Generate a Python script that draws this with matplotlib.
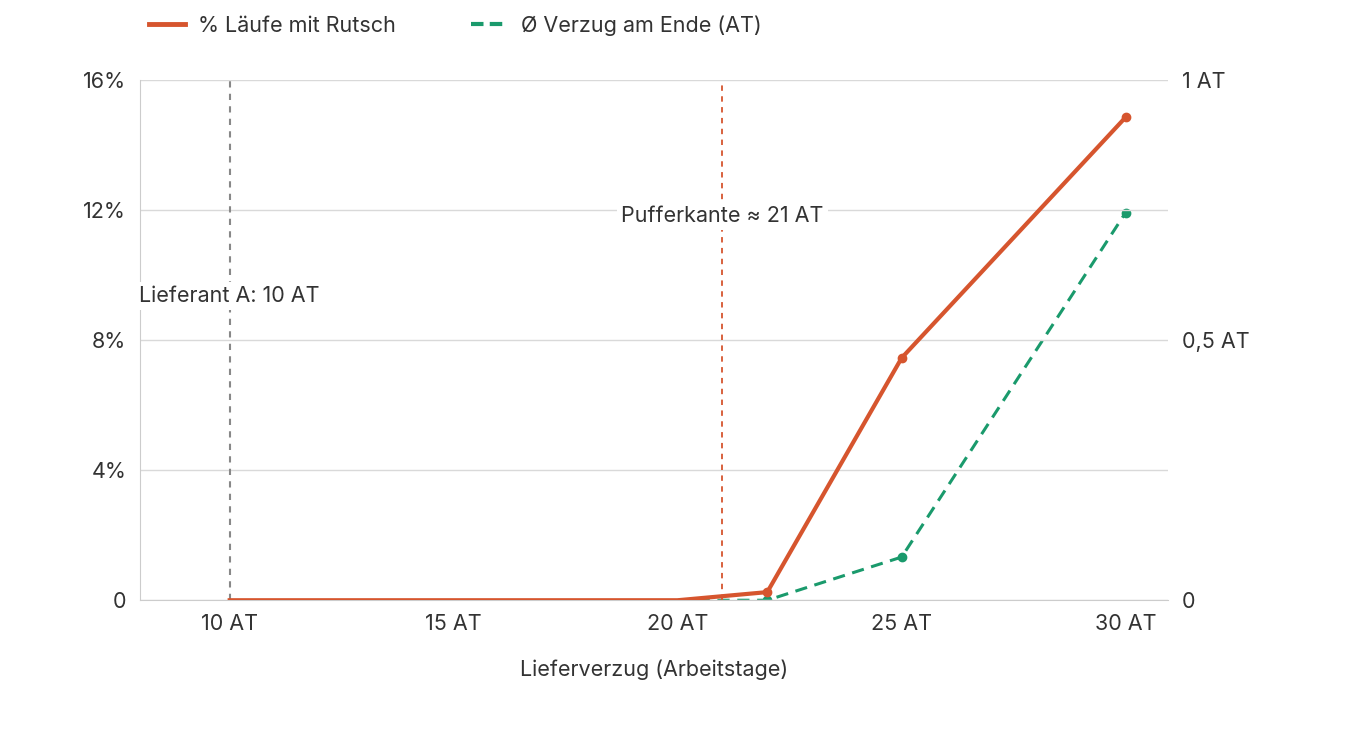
import matplotlib
matplotlib.use("Agg")
import matplotlib.pyplot as plt
from matplotlib.lines import Line2D

plt.rcParams['font.family'] = ['Inter', 'DejaVu Sans']

x_rutsch = [10, 15, 20, 22, 25, 30]
pct_rutsch = [0, 0, 0, 0.25, 7.45, 14.85]
x_verzug = [20, 22, 25, 30]
verzug_at = [0, 0, 0.083, 0.745]
left_ticks = [0, 4, 8, 12, 16]
left_labels = ["0", "4%", "8%", "12%", "16%"]
right_ticks = [0, 0.5, 1]
right_labels = ["0", "0,5 AT", "1 AT"]
x_ticks = [10, 15, 20, 25, 30]
x_labels = ["10 AT", "15 AT", "20 AT", "25 AT", "30 AT"]

orange = "#d6552e"
green = "#1a9a6c"
txt = "#333333"

fig = plt.figure(figsize=(13.6, 7.32), dpi=100)
ax = fig.add_axes([0.103, 0.180, 0.756, 0.711])
ax.set_xlim(8, 30.95)
ax.set_ylim(0, 16)
ax.set_yticks(left_ticks)
ax.set_yticklabels(left_labels)
ax.set_xticks(x_ticks)
ax.set_xticklabels(x_labels)
for s in ["top", "right"]:
    ax.spines[s].set_visible(False)
ax.spines["left"].set_color("#cccccc")
ax.spines["bottom"].set_color("#cccccc")
ax.grid(axis="y", color="#d9d9d9", lw=1)
ax.set_axisbelow(True)
ax.tick_params(length=0, labelsize=15.5, colors=txt, pad=10)
ax.set_xlabel("Lieferverzug (Arbeitstage)", fontsize=15.5, color=txt, labelpad=18)

ax.axvline(10, color="#888888", ls=(0, (3, 3)), lw=1.5, zorder=2)
ax.axvline(21, color=orange, ls=(0, (3, 3)), lw=1.3, zorder=2)
ax.text(10, 9.35, "Lieferant A: 10 AT", ha="center", va="center", fontsize=15.5, color=txt,
        bbox=dict(fc="white", ec="none", pad=3), zorder=3)
ax.text(21, 11.8, "Pufferkante ≈ 21 AT", ha="center", va="center", fontsize=15.5, color=txt,
        bbox=dict(fc="white", ec="none", pad=3), zorder=3)

ax2 = ax.twinx()
ax2.set_ylim(0, 1)
ax2.set_yticks(right_ticks)
ax2.set_yticklabels(right_labels)
for s in ax2.spines.values():
    s.set_visible(False)
ax2.tick_params(length=0, labelsize=15.5, colors=txt, pad=10)
ax2.plot(x_verzug, verzug_at, color=green, lw=2.2, ls=(0, (4, 2.5)), zorder=4)
ax2.plot(x_verzug[1:], verzug_at[1:], "o", color=green, ms=6, zorder=4)

ax.plot(x_rutsch, pct_rutsch, color=orange, lw=3, zorder=5)
ax.plot(x_rutsch[3:], pct_rutsch[3:], "o", color=orange, ms=6, zorder=5)
ax.set_zorder(ax2.get_zorder() + 1)
ax.patch.set_visible(False)

handles = [Line2D([], [], color=orange, lw=3.5),
           Line2D([], [], color=green, lw=3, ls=(0, (3, 1.5)))]
fig.legend(handles, ["% Läufe mit Rutsch", "Ø Verzug am Ende (AT)"], loc="center left",
           bbox_to_anchor=(0.095, 0.965), ncol=2, frameon=False, fontsize=15.5,
           handlelength=1.7, handletextpad=0.6, columnspacing=3.5, labelcolor=txt)

fig.savefig("out.png", dpi=100)
